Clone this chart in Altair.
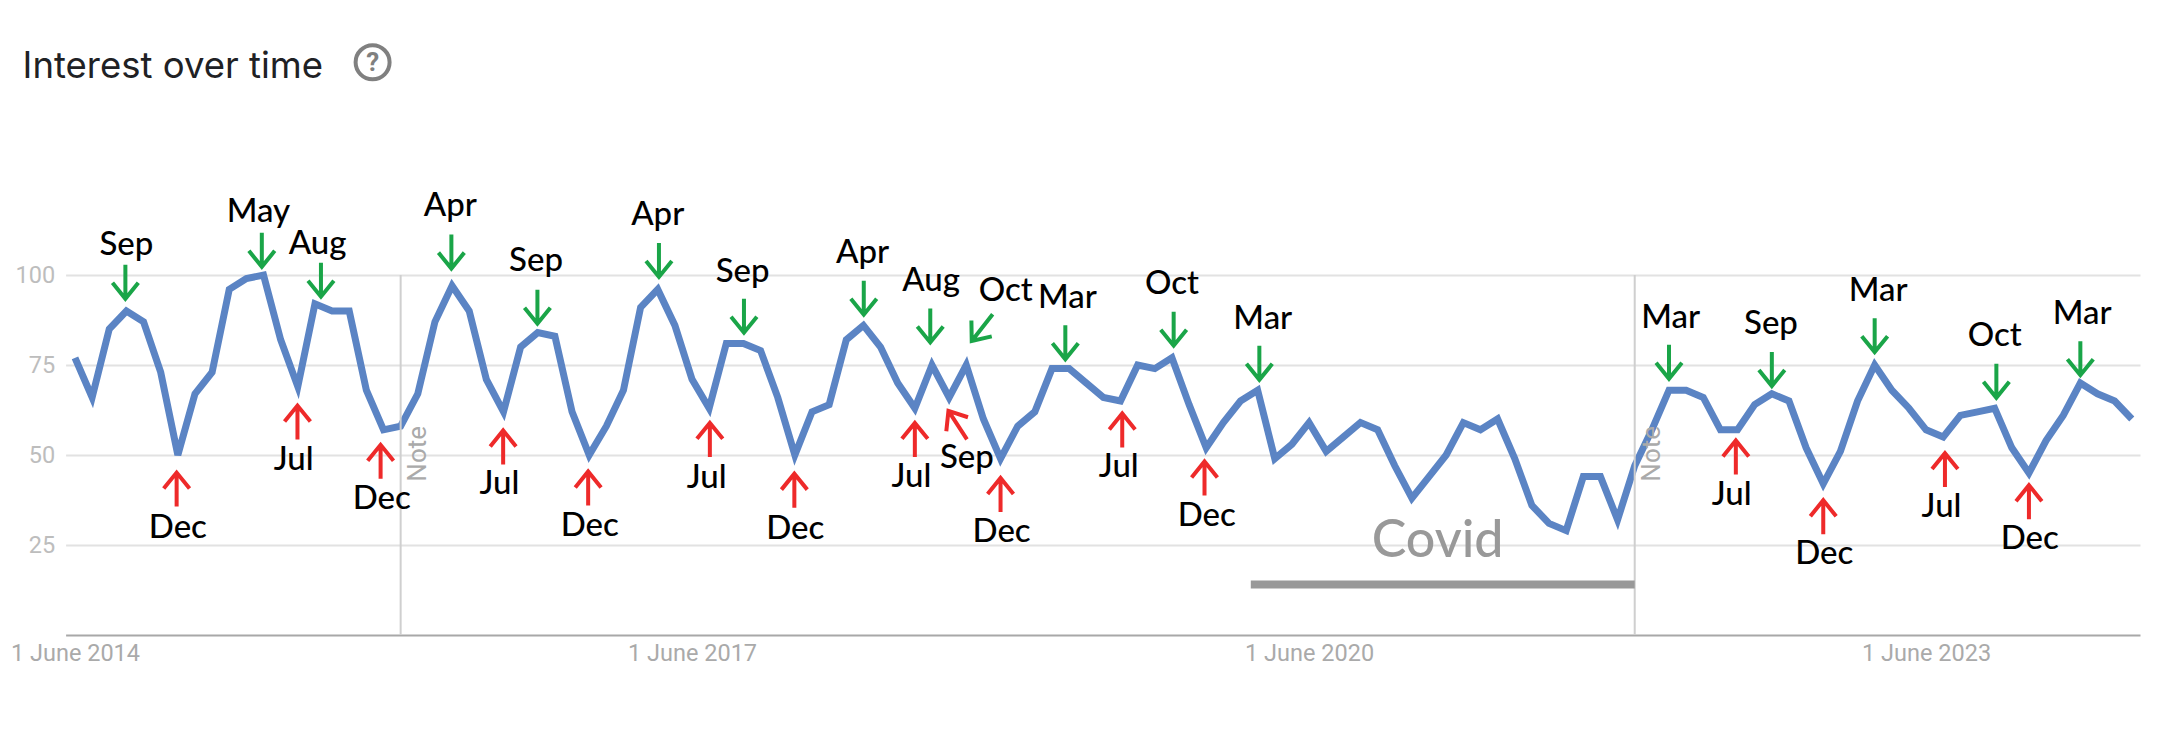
import altair as alt
import pandas as pd

values = [77,66,85,90,87,73,50,67,73,96,99,100,82,69,92,90,90,68,57,58,67,87,97,90,71,62,80,84,83,62,
          50,58,68,91,96,86,71,63,81,81,79,66,50,62,64,82,86,80,70,63,75,66,75,60,49,58,62,74,74,70,
          66,65,75,74,77,64,52,59,65,68,49,53,59,51,55,59,57,47,38,44,50,59,57,60,49,36,31,29,44,44,
          32,47,57,68,68,66,57,57,64,67,65,52,42,51,65,75,68,63,57,55,61,62,63,52,45,54,61,70,67,65,60]
months = list(range(len(values)))

tick_positions = [0, 36, 72, 108]
tick_labels = ["1 June 2014", "1 June 2017", "1 June 2020", "1 June 2023"]
y_ticks = [25, 50, 75, 100]
note_months = [19, 91]
note_text_months = [20.5, 92.5]

peak_labels = ["Sep","May","Aug","Apr","Sep","Apr","Sep","Apr","Aug","Oct","Mar","Oct","Mar","Mar","Sep","Mar","Oct","Mar"]
peak_arrow_x = [2.94,10.9,14.35,21.96,26.98,34.07,39.03,46.02,49.9,52.93,57.78,64.1,69.1,93,99,105,112.1,117]
peak_arrow_y = [98.1,107,98.7,106.5,91.2,104.2,88.7,93.7,86,85.4,81.3,85.1,75.6,75.9,73.9,83.3,70.6,76.9]
peak_arrow_angle = [0,0,0,0,0,0,0,0,0,38,0,0,0,0,0,0,0,0]
peak_text_x = [3.0,10.7,14.15,21.9,26.9,34.0,38.95,45.95,49.95,54.3,57.9,64.0,69.3,93.1,98.95,105.2,112.0,117.1]
peak_text_y = [105.5,114.7,105.7,116.4,101.1,113.9,98.1,103.2,95.5,92.7,90.7,94.6,85.1,85.3,83.5,92.9,80.3,86.5]

low_labels = ["Dec","Jul","Dec","Jul","Dec","Jul","Dec","Jul","Sep","Dec","Jul","Dec","Jul","Dec","Jul","Dec"]
low_arrow_x = [5.93,12.98,17.83,24.98,29.94,37.04,41.97,49,51.5,54,61.1,65.9,96.9,102,109.1,114]
low_arrow_y = [40.4,59,48.1,52.1,40.7,54.2,40.1,54.2,58.3,38.9,56.8,43.5,49.3,32.7,45.8,36.9]
low_arrow_angle = [0,0,0,0,0,0,0,0,327,0,0,0,0,0,0,0]
low_text_x = [6.0,12.76,17.9,24.76,30.03,36.85,42.02,48.8,52.04,54.06,60.9,66.03,96.66,102.06,108.9,114.05]
low_text_y = [27.0,45.7,35.1,39.1,27.5,40.9,26.8,41.1,46.5,25.8,43.9,30.4,36.1,19.6,32.8,23.8]

covid_label = "Covid"
covid_text_x = 79.5
covid_text_y = 21.6
covid_start = 68.6
covid_end = 91
covid_level = 14

x_scale = alt.Scale(domain=[-0.548, 120.48], nice=False, zero=False)
y_scale = alt.Scale(domain=[0, 174.17], nice=False, zero=True)
FONT = "Lato"

label_expr = " : ".join(f"datum.value == {p} ? '{l}'" for p, l in zip(tick_positions, tick_labels)) + " : ''"

x_axis = alt.Axis(
    values=tick_positions, labelExpr=label_expr, grid=False, ticks=False, domainColor="#a8a8a8",
    domainWidth=2, labelFont="Roboto", labelFontSize=23.5, labelColor="#aaaaaa", labelPadding=6,
    labelOverlap=False, labelFlush=False, title=None)
y_axis = alt.Axis(
    values=y_ticks, grid=True, gridColor="#e2e2e2", gridWidth=2, ticks=False, domain=False,
    labelFont="Roboto", labelFontSize=23.5, labelColor="#bdbdbd", labelPadding=11, title=None)

X = lambda f="x:Q": alt.X(f, scale=x_scale, axis=x_axis)
Y = lambda f="y:Q": alt.Y(f, scale=y_scale, axis=y_axis)

series = pd.DataFrame({"x": months, "y": values})
line = alt.Chart(series).mark_line(color="#5b84c4", strokeWidth=7, strokeJoin="miter", strokeCap="butt").encode(
    x=X(), y=Y())

notes = alt.Chart(pd.DataFrame({"x": note_months, "y": [0, 0], "y2": [100, 100]})).mark_rule(
    color="#cfcfcf", strokeWidth=2).encode(x=X(), y=Y(), y2="y2:Q")
note_text = alt.Chart(pd.DataFrame({"x": note_text_months, "y": [42.6, 42.6], "t": ["Note", "Note"]})).mark_text(
    font="Roboto", fontSize=26, color="#aaaaaa", angle=270, align="left", baseline="alphabetic").encode(
    x=X(), y=Y(), text="t:N")

DOWN = "M0,-1 L0,1 M-0.76,0.06 L0,1 L0.76,0.06"
UP = "M0,1 L0,-1 M-0.76,-0.06 L0,-1 L0.76,-0.06"

def arrows(xs, ys, angles, shape, color):
    df = pd.DataFrame({"x": xs, "y": ys, "a": angles})
    return alt.Chart(df).mark_point(shape=shape, filled=False, size=1156, strokeWidth=4, color=color, opacity=1).encode(
        x=X(), y=Y(), angle=alt.Angle("a:Q", scale=None))

def texts(xs, ys, labels):
    df = pd.DataFrame({"x": xs, "y": ys, "t": labels})
    return alt.Chart(df).mark_text(font=FONT, fontSize=33, fontWeight=500, color="#000000", align="center", baseline="alphabetic").encode(
        x=X(), y=Y(), text="t:N")

covid_bar = alt.Chart(pd.DataFrame({"x": [covid_start], "x2": [covid_end], "y": [covid_level]})).mark_rule(
    color="#999999", strokeWidth=8).encode(x=X(), x2="x2:Q", y=Y())
covid_text = alt.Chart(pd.DataFrame({"x": [covid_text_x], "y": [covid_text_y], "t": [covid_label]})).mark_text(
    font=FONT, fontSize=52, fontWeight=500, color="#999999", align="center", baseline="alphabetic").encode(x=X(), y=Y(), text="t:N")

title = alt.Chart(pd.DataFrame({"t": ["Interest over time"]})).mark_text(
    font="Inter", fontSize=36.5, color="#202124", align="left", baseline="alphabetic").encode(
    x=alt.value(-43), y=alt.value(70), text="t:N")
icon = alt.Chart(pd.DataFrame({"t": ["?"]})).mark_point(
    shape="circle", filled=False, size=1156, strokeWidth=4, color="#808080", opacity=1).encode(
    x=alt.value(307), y=alt.value(54.3))
icon_q = alt.Chart(pd.DataFrame({"t": ["?"]})).mark_text(
    font="Roboto", fontSize=26, fontWeight="bold", color="#808080", align="center", baseline="middle").encode(
    x=alt.value(307), y=alt.value(55), text="t:N")

chart = alt.layer(
    line, notes, note_text, covid_bar, covid_text,
    arrows(peak_arrow_x, peak_arrow_y, peak_arrow_angle, DOWN, "#1aa548"),
    arrows(low_arrow_x, low_arrow_y, low_arrow_angle, UP, "#ee2a2a"),
    texts(peak_text_x, peak_text_y, peak_labels),
    texts(low_text_x, low_text_y, low_labels),
    title, icon, icon_q,
).properties(
    width=2074.4, height=627,
    padding={"left": 57.6, "top": 0, "right": 27, "bottom": 80},
    autosize=alt.AutoSizeParams(type="none"),
    background="white",
).configure_view(stroke=None)

chart.save("out.html", embed_options={"renderer": "svg", "actions": False})
